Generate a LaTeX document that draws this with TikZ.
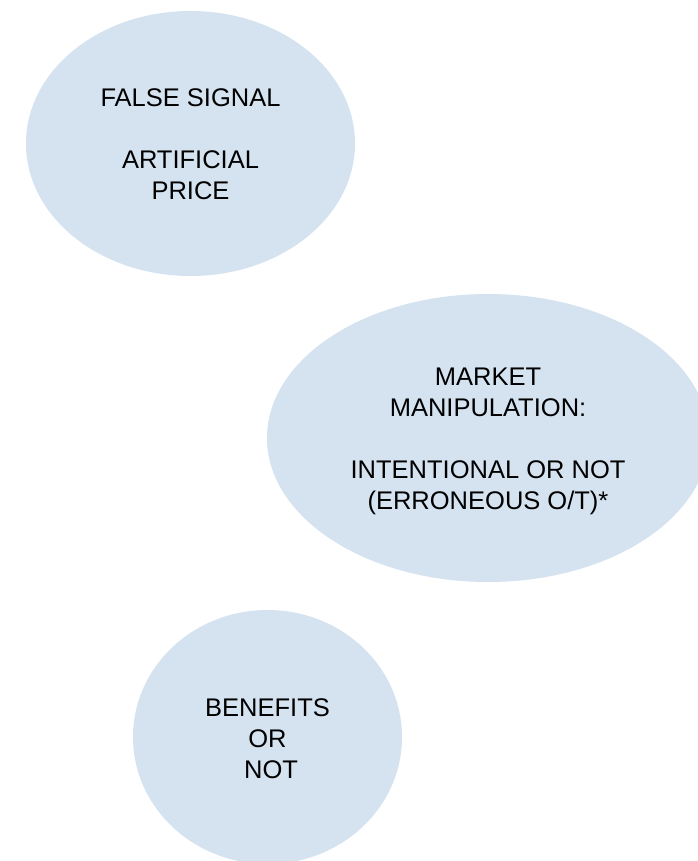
\documentclass[tikz,border=0pt]{standalone}
\usepackage{fontspec}
\setmainfont{Liberation Sans}
\usetikzlibrary{shapes.geometric}
\definecolor{bubble}{HTML}{D5E3F1}
\begin{document}
\begin{tikzpicture}[x=1pt,y=-1pt,
  bubblebox/.style={ellipse, fill=bubble, draw=none, inner sep=0pt},
  bubbletext/.style={align=center, inner sep=0pt, text=black,
    font=\fontsize{25.5}{31}\selectfont}]
\useasboundingbox[fill=white] (0,0) rectangle (697,861);
\node[bubblebox, minimum width=329pt, minimum height=265pt] (e1) at (190.5,143.5) {};
\node[bubblebox, minimum width=442pt, minimum height=288pt] (e2) at (488,438) {};
\node[bubblebox, minimum width=269pt, minimum height=254pt] (e3) at (267.5,737) {};
\node[bubbletext] (t1) at (190.5,144) {FALSE SIGNAL\\[31pt]ARTIFICIAL\\PRICE};
\node[bubbletext] (t2) at (488,441) {MARKET\\MANIPULATION:\\[31pt]INTENTIONAL OR NOT\\(ERRONEOUS O/T)*};
\node[bubbletext] (t3) at (267.5,738.5) {BENEFITS\\OR\\\hspace*{7pt}NOT};
\end{tikzpicture}
\end{document}
